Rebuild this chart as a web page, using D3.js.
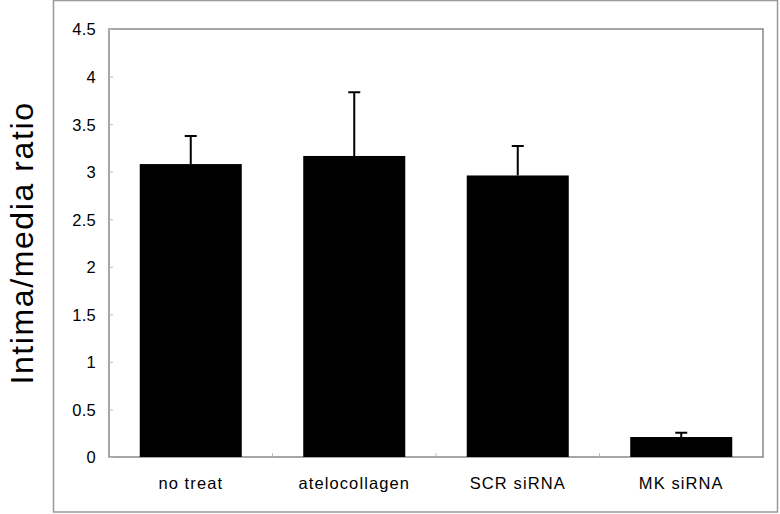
<!DOCTYPE html>
<html><head><meta charset="utf-8">
<script src="https://cdn.jsdelivr.net/npm/d3@7"></script>
<style>body{margin:0;background:#fff}svg{display:block}</style>
</head><body>
<svg id="c" width="780" height="514"></svg>
<script>
const categories = ["no treat", "atelocollagen", "SCR siRNA", "MK siRNA"];
const means = [3.08, 3.165, 2.96, 0.21];
const errors = [0.295, 0.67, 0.31, 0.045];
const yTicks = [0, 0.5, 1, 1.5, 2, 2.5, 3, 3.5, 4, 4.5];
const yLabel = "Intima/media ratio";

const svg = d3.select("#c");
const L = 109, R = 763, T = 29, B = 457;
const font = "Arial, 'Liberation Sans', sans-serif";

// outer frame
svg.append("rect").attr("x", 53.5).attr("y", 0.5).attr("width", 724).attr("height", 511.5)
  .attr("fill", "none").attr("stroke", "#999").attr("stroke-width", 1.5);

const x = d3.scaleBand().domain(categories).range([L, R]).paddingInner(0.376).paddingOuter(0.188);
const y = d3.scaleLinear().domain([0, 4.5]).range([B, T]);

// plot frame
svg.append("rect").attr("x", L).attr("y", T).attr("width", R - L).attr("height", B - T)
  .attr("fill", "none").attr("stroke", "#888").attr("stroke-width", 1.5);

// y axis
const ya = svg.append("g").attr("transform", `translate(${L},0)`)
  .call(d3.axisRight(y).tickValues(yTicks).tickSize(4).tickFormat(d3.format("")));
ya.select(".domain").remove();
ya.selectAll("line").attr("stroke", "#bbb");
ya.selectAll("text").attr("x", -13).attr("text-anchor", "end").attr("dy", "0.36em")
  .attr("font-family", font).attr("font-size", 16.5).attr("letter-spacing", 0.3).attr("fill", "#000");

// x axis
const xa = svg.append("g").attr("transform", `translate(0,${B})`)
  .call(d3.axisBottom(x).tickSize(0).tickPadding(20));
xa.select(".domain").remove();
xa.selectAll("text").attr("font-family", font).attr("font-size", 16.5).attr("letter-spacing", 1.1).attr("fill", "#000");
// category separator ticks
const step = x.step();
svg.append("g").selectAll("line").data(categories.slice(1)).join("line")
  .attr("x1", d => x(d) - (step - x.bandwidth()) / 2).attr("x2", d => x(d) - (step - x.bandwidth()) / 2)
  .attr("y1", B).attr("y2", B - 4).attr("stroke", "#bbb");

// error bars
const eb = svg.append("g");
categories.forEach((c, i) => {
  const cx = x(c) + x.bandwidth() / 2;
  eb.append("line").attr("x1", cx).attr("x2", cx).attr("y1", y(means[i])).attr("y2", y(means[i] + errors[i]))
    .attr("stroke", "#000").attr("stroke-width", 2);
  eb.append("line").attr("x1", cx - 6).attr("x2", cx + 6).attr("y1", y(means[i] + errors[i])).attr("y2", y(means[i] + errors[i]))
    .attr("stroke", "#000").attr("stroke-width", 2);
});

// bars
svg.append("g").selectAll("rect").data(categories).join("rect")
  .attr("x", d => x(d)).attr("width", x.bandwidth())
  .attr("y", (d, i) => y(means[i])).attr("height", (d, i) => B - y(means[i]))
  .attr("fill", "#000");

// y label
svg.append("text").attr("transform", `translate(33,${(T + B) / 2}) rotate(-90)`)
  .attr("text-anchor", "middle").attr("font-family", font).attr("font-size", 32)
  .attr("letter-spacing", 1.6).attr("fill", "#000")
  .text(yLabel);
</script>
</body></html>
